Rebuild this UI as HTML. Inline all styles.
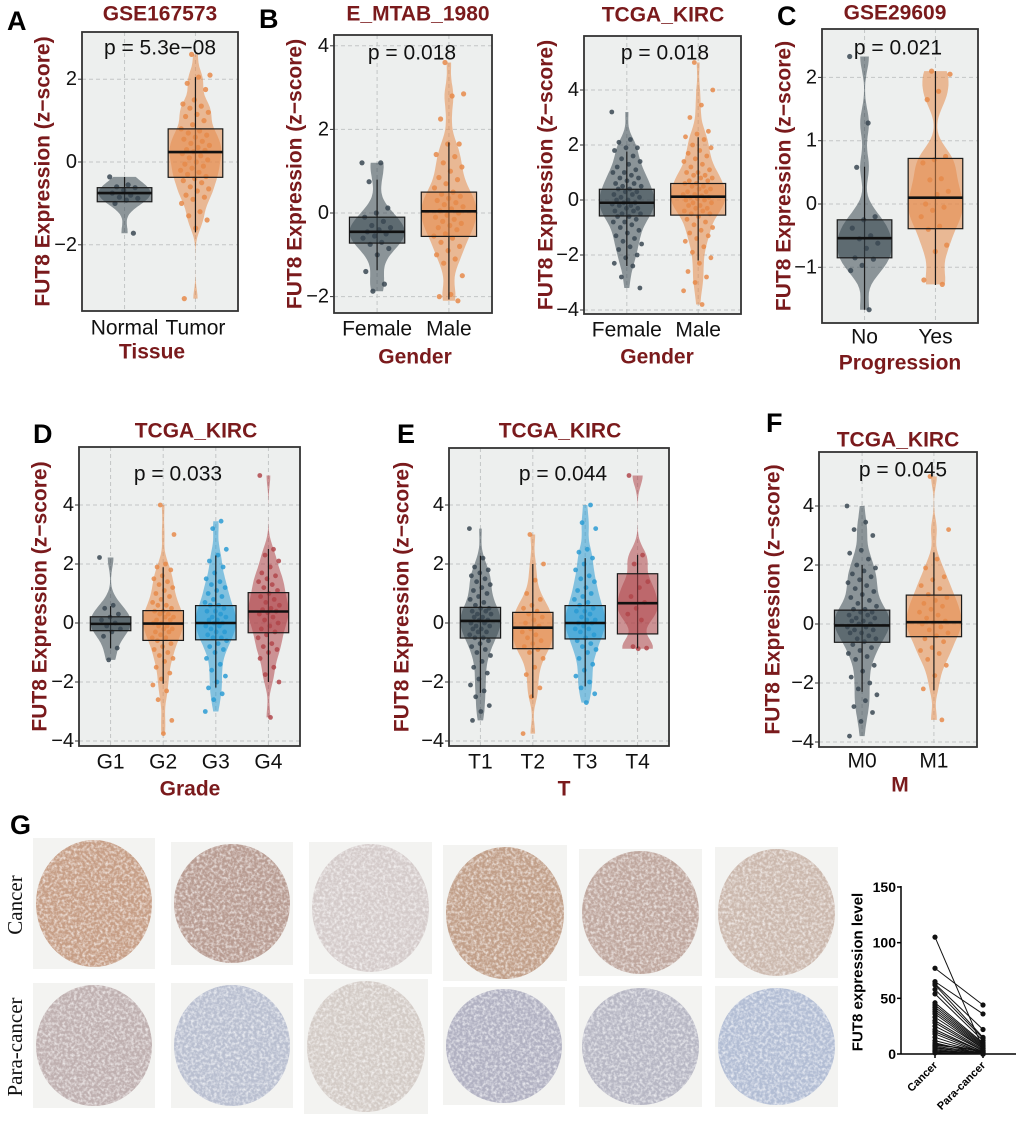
<!DOCTYPE html>
<html><head><meta charset="utf-8">
<style>
html,body{margin:0;padding:0;background:#fff;}
svg{display:block;font-family:"Liberation Sans",Arial,sans-serif;}
</style></head>
<body>
<svg id="fig" width="1020" height="1128" viewBox="0 0 1020 1128" xmlns="http://www.w3.org/2000/svg">
<defs>
<filter id="tex" x="0" y="0" width="100%" height="100%">
<feTurbulence type="fractalNoise" baseFrequency="0.35" numOctaves="2" seed="3" result="n"/>
<feColorMatrix in="n" type="matrix" values="0 0 0 0 1  0 0 0 0 1  0 0 0 0 1  0 0 0 -2.2 1.35" result="w"/>
<feComposite in="w" in2="SourceGraphic" operator="in"/>
</filter>
</defs>
</svg>
<script>
// ---------------- DATA ----------------
const A_categories = ['Normal','Tumor'];
const A_ticks = [-2,0,2];
const A_box_normal = [-0.96,-0.75,-0.62,-0.96,-0.36];
const A_box_tumor = [-0.37,0.24,0.80,-1.70,2.05];
const A_points_normal = [-0.36,-0.55,-0.6,-0.62,-0.68,-0.75,-0.8,-0.85,-0.88,-0.92,-1.0,-1.72];
const A_points_tumor = [2.6,2.1,2.05,1.9,1.75,1.5,1.4,1.35,1.3,1.2,1.15,1.1,1.0,0.9,0.8,0.75,0.7,0.65,0.6,0.55,0.5,0.45,0.4,0.35,0.3,0.28,0.25,0.2,0.15,0.1,0.05,0.0,-0.05,-0.1,-0.15,-0.2,-0.25,-0.3,-0.35,-0.4,-0.45,-0.5,-0.6,-0.65,-0.7,-0.8,-0.85,-0.9,-1.0,-1.2,-1.3,-1.4,-1.6,-3.3];

const B1_categories = ['Female','Male'];
const B1_ticks = [-2,0,2,4];
const B1_box_female = [-0.72,-0.45,-0.10,-1.37,0.80];
const B1_box_male = [-0.56,0.04,0.50,-2.07,1.69];
const B1_points_female = [1.2,1.2,0.75,0.12,0.0,-0.1,-0.2,-0.3,-0.35,-0.4,-0.45,-0.5,-0.55,-0.6,-0.7,-0.75,-0.85,-1.0,-1.4,-1.7,-1.87];
const B1_points_male = [3.6,2.85,2.8,2.25,1.65,1.65,1.4,1.35,1.2,1.1,1.0,0.85,0.8,0.7,0.6,0.5,0.45,0.4,0.35,0.3,0.25,0.2,0.15,0.1,0.05,0.0,-0.05,-0.1,-0.15,-0.2,-0.25,-0.3,-0.35,-0.4,-0.5,-0.55,-0.6,-0.7,-0.8,-0.9,-1.0,-1.1,-1.2,-1.5,-1.95,-2.0,-2.1];

const B2_categories = ['Female','Male'];
const B2_ticks = [-4,-2,0,2,4];
const B2_box_female = [-0.58,-0.10,0.39,-2.40,1.76];
const B2_box_male = [-0.55,0.12,0.60,-2.20,2.28];
const B2_points_female = [3.2,2.2,2.1,1.9,1.9,1.8,1.6,1.5,1.4,1.3,1.2,1.1,1.0,1.0,0.9,0.8,0.8,0.7,0.6,0.6,0.5,0.5,0.4,0.4,0.3,0.3,0.2,0.2,0.1,0.1,0.0,0.0,-0.1,-0.1,-0.15,-0.2,-0.2,-0.3,-0.3,-0.4,-0.4,-0.5,-0.5,-0.6,-0.6,-0.7,-0.8,-0.8,-0.9,-1.0,-1.1,-1.2,-1.3,-1.4,-1.5,-1.6,-1.7,-1.8,-2.0,-2.1,-2.3,-2.4,-2.8,-3.2];
const B2_points_male = [5.0,4.0,3.45,3.0,2.5,2.4,2.3,2.2,2.0,1.9,1.8,1.7,1.6,1.5,1.4,1.3,1.2,1.1,1.0,1.0,0.9,0.9,0.8,0.8,0.7,0.7,0.6,0.6,0.5,0.5,0.4,0.4,0.3,0.3,0.2,0.2,0.15,0.1,0.1,0.05,0.0,0.0,-0.1,-0.1,-0.2,-0.2,-0.3,-0.3,-0.4,-0.4,-0.5,-0.5,-0.6,-0.7,-0.8,-0.9,-1.0,-1.1,-1.2,-1.3,-1.4,-1.5,-1.7,-1.9,-2.1,-2.3,-2.6,-2.8,-3.0,-3.3,-3.8];

const C_categories = ['No','Yes'];
const C_ticks = [-1,0,1,2];
const C_box_no = [-0.85,-0.54,-0.25,-1.67,0.59];
const C_box_yes = [-0.39,0.10,0.72,-1.28,2.10];
const C_points_no = [2.33,1.28,0.58,-0.2,-0.25,-0.38,-0.5,-0.55,-0.62,-0.7,-0.85,-0.87,-0.97,-1.05,-1.67];
const C_points_yes = [2.1,2.05,1.78,1.65,0.75,0.7,0.65,0.4,0.38,0.2,0.15,0.0,-0.05,-0.1,-0.2,-0.35,-0.4,-0.65,-0.75,-1.2,-1.27];

const D_categories = ['G1','G2','G3','G4'];
const D_ticks = [-4,-2,0,2,4];
const D_box_g1 = [-0.26,-0.03,0.21,-0.86,0.57];
const D_box_g2 = [-0.59,-0.02,0.42,-2.06,1.89];
const D_box_g3 = [-0.57,0.00,0.59,-2.19,2.29];
const D_box_g4 = [-0.33,0.39,1.03,-2.00,2.51];
const D_points_g1 = [2.22,0.6,0.5,0.3,0.2,0.1,0.0,-0.1,-0.2,-0.3,-0.45,-0.85,-1.25];
const D_points_g2 = [4.0,3.0,2.0,1.9,1.8,1.6,1.5,1.4,1.3,1.2,1.1,1.0,0.9,0.8,0.7,0.6,0.6,0.5,0.4,0.4,0.3,0.3,0.2,0.2,0.1,0.1,0.0,0.0,-0.1,-0.1,-0.2,-0.2,-0.3,-0.3,-0.4,-0.5,-0.5,-0.6,-0.7,-0.8,-0.9,-1.0,-1.1,-1.2,-1.3,-1.5,-1.7,-1.9,-2.1,-2.3,-2.6,-3.3,-3.75];
const D_points_g3 = [3.45,3.2,2.5,2.3,2.1,1.9,1.7,1.5,1.4,1.3,1.2,1.1,1.0,0.9,0.8,0.7,0.6,0.6,0.5,0.4,0.4,0.3,0.2,0.2,0.1,0.1,0.0,0.0,-0.1,-0.1,-0.2,-0.3,-0.3,-0.4,-0.5,-0.5,-0.6,-0.7,-0.8,-0.9,-1.0,-1.2,-1.4,-1.6,-1.8,-2.0,-2.2,-2.4,-2.6,-3.0];
const D_points_g4 = [5.0,2.5,2.3,2.1,1.9,1.7,1.6,1.5,1.4,1.3,1.2,1.1,1.0,0.9,0.8,0.7,0.6,0.5,0.45,0.4,0.35,0.3,0.2,0.1,0.0,-0.1,-0.2,-0.3,-0.4,-0.5,-0.7,-0.8,-0.9,-1.0,-1.2,-1.5,-1.75,-2.0,-3.2];

const E_categories = ['T1','T2','T3','T4'];
const E_ticks = [-4,-2,0,2,4];
const E_box_t1 = [-0.51,0.07,0.53,-2.37,2.28];
const E_box_t2 = [-0.87,-0.16,0.36,-2.54,2.00];
const E_box_t3 = [-0.54,0.00,0.59,-2.15,2.20];
const E_box_t4 = [-0.37,0.67,1.67,-0.86,2.31];
const E_points_t1 = [3.2,2.2,1.9,1.8,1.7,1.6,1.5,1.4,1.3,1.2,1.1,1.0,0.9,0.8,0.7,0.6,0.5,0.5,0.4,0.4,0.3,0.3,0.2,0.2,0.1,0.1,0.0,0.0,-0.1,-0.1,-0.2,-0.2,-0.3,-0.3,-0.4,-0.5,-0.5,-0.6,-0.7,-0.8,-0.9,-1.0,-1.1,-1.3,-1.5,-1.7,-1.9,-2.1,-2.3,-2.5,-2.8,-3.0,-3.3];
const E_points_t2 = [3.0,2.0,1.45,1.0,0.8,0.6,0.5,0.4,0.3,0.2,0.1,0.0,-0.1,-0.2,-0.3,-0.4,-0.5,-0.6,-0.7,-0.8,-0.9,-1.0,-1.2,-1.5,-1.75,-2.2,-2.5,-3.75];
const E_points_t3 = [4.0,3.4,3.2,2.5,2.4,2.2,2.0,1.8,1.6,1.5,1.4,1.2,1.1,1.0,0.9,0.8,0.7,0.6,0.5,0.4,0.4,0.3,0.2,0.1,0.1,0.0,0.0,-0.1,-0.2,-0.2,-0.3,-0.4,-0.5,-0.6,-0.7,-0.8,-0.9,-1.0,-1.2,-1.4,-1.6,-1.8,-2.0,-2.2,-2.4,-2.7];
const E_points_t4 = [5.0,2.3,2.0,1.4,1.2,0.9,0.7,0.5,0.3,0.1,-0.8,-0.85,-0.87];

const F_categories = ['M0','M1'];
const F_ticks = [-4,-2,0,2,4];
const F_box_m0 = [-0.62,-0.05,0.47,-2.30,2.00];
const F_box_m1 = [-0.43,0.06,0.98,-2.25,2.43];
const F_points_m0 = [4.0,3.45,3.2,3.0,2.5,2.4,2.2,2.0,1.9,1.8,1.7,1.6,1.5,1.4,1.3,1.2,1.1,1.0,0.9,0.8,0.7,0.6,0.5,0.5,0.4,0.4,0.3,0.3,0.2,0.2,0.1,0.1,0.0,0.0,-0.1,-0.1,-0.2,-0.2,-0.3,-0.3,-0.4,-0.5,-0.5,-0.6,-0.7,-0.8,-0.9,-1.0,-1.1,-1.2,-1.4,-1.6,-1.8,-2.0,-2.2,-2.4,-2.6,-2.8,-3.0,-3.3,-3.8];
const F_points_m1 = [5.0,3.2,2.2,1.9,1.6,1.5,1.3,1.2,1.0,0.9,0.8,0.7,0.6,0.5,0.4,0.3,0.2,0.1,0.05,0.0,-0.1,-0.2,-0.3,-0.4,-0.5,-0.6,-0.8,-0.9,-1.0,-1.2,-1.4,-1.75,-2.2,-3.25];

const G_categories = ['Cancer','Para-cancer'];
const G_ticks = [0,50,100,150];
const G_cancer = [105,77,65,63,62,58,54,46,44,42,40,38,36,33,30,28,25,22,20,18,15,12,10,9,8,7,6,5,4,3,2,2,1];
const G_para = [5,44,36,22,15,14,12,10,9,8,7,6,5,5,4,3,3,2,2,1,1,1,0,2,3,1,0,1,0,0,1,0,0];

// ---------------- DRAW ----------------
const NS='http://www.w3.org/2000/svg';
const svg=document.getElementById('fig');
function mk(tag,attrs,parent){const e=document.createElementNS(NS,tag);for(const k in attrs)e.setAttribute(k,attrs[k]);(parent||svg).appendChild(e);return e;}
function txt(s,attrs,parent){const e=mk('text',attrs,parent);e.textContent=s;return e;}
const GREY='#3a4852',ORANGE='#e68a4a',BLUE='#2a9bd3',RED='#b0464b',DRED='#7a1a1c';

function kde(pts,v,bw){let s=0;for(const p of pts){const z=(v-p)/bw;s+=Math.exp(-0.5*z*z);}return s;}

function panel(cfg){
  const g=mk('g',{});
  
  
  const [x1,y1,x2,y2]=cfg.box;
  const n=cfg.cats.length;
  const unit=(x2-x1)/(n+0.2);
  const xs=i=>x1+(i+0.6)*unit;
  const ys=v=>cfg.y0-v*cfg.ppu;
  const bg=mk('rect',{x:x1,y:y1,width:x2-x1,height:y2-y1,fill:'#edefee'},g);
  
  
  cfg.ticks.forEach(t=>{
    const l=mk('line',{x1:x1,x2:x2,y1:ys(t),y2:ys(t),stroke:'#c3c6c6','stroke-dasharray':'4,3','stroke-width':1},g);
    
    
    const tk=mk('line',{x1:x1-4,x2:x1,y1:ys(t),y2:ys(t),stroke:'#333','stroke-width':1},g);
    
    
    const lb=txt(t<0?'\u2212'+Math.abs(t):String(t),{x:x1-5,y:ys(t),'text-anchor':'end','dominant-baseline':'central','font-size':20,fill:'#111'},g);
    
    
  });
  cfg.cats.forEach((c,i)=>{
    const l=mk('line',{x1:xs(i),x2:xs(i),y1:y1,y2:y2,stroke:'#c3c6c6','stroke-dasharray':'4,3','stroke-width':1},g);
    
    
  });
  const bhw=unit*0.385;
  cfg.cats.forEach((c,i)=>{
    const pts=cfg.points[i], st=cfg.stats[i], col=cfg.colors[i], cx=xs(i);
    const mn=Math.min(...pts), mx=Math.max(...pts);
    const bw=cfg.bw||0.3;
    const steps=60;let mxd=0;const dens=[];
    for(let k=0;k<=steps;k++){const v=mn+(mx-mn)*k/steps;const d=kde(pts,v,bw);dens.push([v,d]);if(d>mxd)mxd=d;}
    const vw=bhw*(cfg.vf||1.0);
    let dp='';
    dens.forEach(([v,d],k)=>{dp+=(k?'L':'M')+(cx+d/mxd*vw).toFixed(1)+','+ys(v).toFixed(1);});
    for(let k=dens.length-1;k>=0;k--){const [v,d]=dens[k];dp+='L'+(cx-d/mxd*vw).toFixed(1)+','+ys(v).toFixed(1);}
    const vio=mk('path',{d:dp+'Z',fill:col,'fill-opacity':0.55,stroke:'none'},g);
    
    
    pts.forEach((p,j)=>{
      const jit=(((j*0.6180339+i*0.37)%1)-0.5)*unit*0.42;
      const dot=mk('circle',{cx:(cx+jit).toFixed(1),cy:ys(p).toFixed(1),r:cfg.r||2.6,fill:col,'fill-opacity':0.85},g);
      
      
    });
    const wh=mk('line',{x1:cx,x2:cx,y1:ys(st[3]),y2:ys(st[4]),stroke:'#1a1a1a','stroke-width':1.2},g);
    
    
    const bx=mk('rect',{x:cx-bhw,y:ys(st[2]),width:2*bhw,height:ys(st[0])-ys(st[2]),fill:col,'fill-opacity':0.55,stroke:'#1a1a1a','stroke-width':1.2},g);
    
    
    const md=mk('line',{x1:cx-bhw,x2:cx+bhw,y1:ys(st[1]),y2:ys(st[1]),stroke:'#111','stroke-width':2.6},g);
    
    
    const xl=txt(c,{x:cx,y:cfg.xlabY,'text-anchor':'middle','dominant-baseline':'central','font-size':21,fill:'#111'},g);
    
    
  });
  const fr=mk('rect',{x:x1,y:y1,width:x2-x1,height:y2-y1,fill:'none',stroke:'#333','stroke-width':1.8},g);
  
  
  const ti=txt(cfg.title,{x:cfg.titleX,y:cfg.titleY,'text-anchor':'middle','dominant-baseline':'central','font-size':21,'font-weight':'bold',fill:DRED},g);
  
  
  const pv=txt(cfg.p,{x:cfg.pX,y:cfg.pY,'text-anchor':'middle','dominant-baseline':'central','font-size':21,fill:'#111'},g);
  
  
  const yt=txt('FUT8 Expression (z\u2212score)',{x:0,y:0,'text-anchor':'middle','dominant-baseline':'central','font-size':21,'font-weight':'bold',fill:DRED,transform:`translate(${cfg.ylabX},${(y1+y2)/2}) rotate(-90)`},g);
  
  
  const xt=txt(cfg.xtitle,{x:cfg.xtX,y:cfg.xtY,'text-anchor':'middle','dominant-baseline':'central','font-size':21,'font-weight':'bold',fill:DRED},g);
  
  
  if(cfg.letter){
    const lt=txt(cfg.letter,{x:cfg.letterX,y:cfg.letterY,'font-size':27,'font-weight':'bold',fill:'#000'},g);
    
    
  }
}

panel({id:'a',box:[82,32,238,311],y0:162,ppu:41.4,ticks:A_ticks,cats:A_categories,colors:[GREY,ORANGE],
  stats:[A_box_normal,A_box_tumor],points:[A_points_normal,A_points_tumor],bw:0.22,vf:0.95,
  title:'GSE167573',titleX:160,titleY:14,p:'p = 5.3e\u221208',pX:160,pY:48,ylabX:43,xlabY:328,xtitle:'Tissue',xtX:152,xtY:352,letter:'A',letterX:7,letterY:30});
panel({id:'b1',box:[334,35,492,313],y0:213,ppu:41.8,ticks:B1_ticks,cats:B1_categories,colors:[GREY,ORANGE],
  stats:[B1_box_female,B1_box_male],points:[B1_points_female,B1_points_male],bw:0.28,
  title:'E_MTAB_1980',titleX:418,titleY:14,p:'p = 0.018',pX:412,pY:53,ylabX:295,xlabY:329,xtitle:'Gender',xtX:415,xtY:357,letter:'B',letterX:259,letterY:28});
panel({id:'b2',box:[584,36,741,314],y0:200,ppu:27.5,ticks:B2_ticks,cats:B2_categories,colors:[GREY,ORANGE],
  stats:[B2_box_female,B2_box_male],points:[B2_points_female,B2_points_male],bw:0.35,r:2.4,
  title:'TCGA_KIRC',titleX:663,titleY:15,p:'p = 0.018',pX:665,pY:53,ylabX:546,xlabY:330,xtitle:'Gender',xtX:657,xtY:357});
panel({id:'c',box:[822,29,978,323],y0:204,ppu:63.3,ticks:C_ticks,cats:C_categories,colors:[GREY,ORANGE],
  stats:[C_box_no,C_box_yes],points:[C_points_no,C_points_yes],bw:0.22,
  title:'GSE29609',titleX:895,titleY:13,p:'p = 0.021',pX:898,pY:48,ylabX:784,xlabY:337,xtitle:'Progression',xtX:900,xtY:363,letter:'C',letterX:777,letterY:25});
panel({id:'d',box:[79,447,300,746],y0:623,ppu:29.5,ticks:D_ticks,cats:D_categories,colors:[GREY,ORANGE,BLUE,RED],
  stats:[D_box_g1,D_box_g2,D_box_g3,D_box_g4],points:[D_points_g1,D_points_g2,D_points_g3,D_points_g4],bw:0.35,r:2.4,
  title:'TCGA_KIRC',titleX:196,titleY:431,p:'p = 0.033',pX:178,pY:474,ylabX:40,xlabY:762,xtitle:'Grade',xtX:190,xtY:789,letter:'D',letterX:33,letterY:443});
panel({id:'e',box:[449,448,669,746],y0:623,ppu:29.5,ticks:E_ticks,cats:E_categories,colors:[GREY,ORANGE,BLUE,RED],
  stats:[E_box_t1,E_box_t2,E_box_t3,E_box_t4],points:[E_points_t1,E_points_t2,E_points_t3,E_points_t4],bw:0.35,r:2.4,
  title:'TCGA_KIRC',titleX:560,titleY:431,p:'p = 0.044',pX:563,pY:474,ylabX:402,xlabY:762,xtitle:'T',xtX:564,xtY:789,letter:'E',letterX:397,letterY:443});
panel({id:'f',box:[819,452,977,747],y0:624,ppu:29.5,ticks:F_ticks,cats:F_categories,colors:[GREY,ORANGE],
  stats:[F_box_m0,F_box_m1],points:[F_points_m0,F_points_m1],bw:0.35,r:2.4,
  title:'TCGA_KIRC',titleX:898,titleY:440,p:'p = 0.045',pX:903,pY:470,ylabX:773,xlabY:761,xtitle:'M',xtX:900,xtY:785,letter:'F',letterX:766,letterY:432});

// ---------------- PANEL G: tissue cores ----------------
const gl=txt('G',{x:10,y:834,'font-size':27,'font-weight':'bold',fill:'#000'});


const cores=[
 [33,838,122,131,'#c69e86'],[171,842,122,123,'#b89c92'],[309,842,123,132,'#d4cbca'],[443,845,124,136,'#c19f89'],[579,849,123,127,'#bfa79e'],[715,847,123,131,'#cbb8ad'],
 [33,983,122,125,'#bfb0b0'],[171,983,122,125,'#b9bfd0'],[304,979,124,135,'#d3cbc6'],[443,987,122,118,'#b1b1c2'],[579,986,123,121,'#b7b7c4'],[715,986,123,121,'#b2bdd4']];
cores.forEach((c,i)=>{
  const [x,y,w,h,col]=c;
  const t=mk('rect',{x:x,y:y,width:w,height:h,fill:'#f3f3f1'});
  
  
  const e=mk('ellipse',{cx:x+w/2,cy:y+h/2,rx:w/2-3,ry:h/2-2,fill:col});
  
  
  const e2=mk('ellipse',{cx:x+w/2,cy:y+h/2,rx:w/2-3,ry:h/2-2,fill:'#fff',filter:'url(#tex)',opacity:0.7});
  
  
});
const rc=txt('Cancer',{x:0,y:0,'text-anchor':'middle','dominant-baseline':'central','font-size':21,fill:'#111','font-family':'"Liberation Serif",serif',transform:'translate(15,905) rotate(-90)'});


const rp=txt('Para-cancer',{x:0,y:0,'text-anchor':'middle','dominant-baseline':'central','font-size':21,fill:'#111','font-family':'"Liberation Serif",serif',transform:'translate(15,1047) rotate(-90)'});



// ---------------- PANEL G: paired chart ----------------
(function(){
  const gy=v=>1054-v*(1054-887)/150;
  const gx=i=>[935,983][i];
  const ax=mk('line',{x1:901,x2:901,y1:886,y2:1054,stroke:'#000','stroke-width':1.5});
  
  
  const xa=mk('line',{x1:901,x2:1016,y1:1054,y2:1054,stroke:'#000','stroke-width':1.5});
  
  
  G_ticks.forEach(t=>{
    const tk=mk('line',{x1:897,x2:901,y1:gy(t),y2:gy(t),stroke:'#000','stroke-width':1.5});
    
    
    const lb=txt(String(t),{x:896,y:gy(t),'text-anchor':'end','dominant-baseline':'central','font-size':14,'font-weight':'bold',fill:'#000'});
    
    
  });
  G_categories.forEach((c,i)=>{
    const tk=mk('line',{x1:gx(i),x2:gx(i),y1:1054,y2:1058,stroke:'#000','stroke-width':1.5});
    
    
    const lb=txt(c,{x:0,y:0,'text-anchor':'end','font-size':11,'font-weight':'bold',fill:'#000',transform:`translate(${gx(i)+3},${1066}) rotate(-45)`});
    
    
  });
  G_cancer.forEach((v,i)=>{
    const p=G_para[i];
    const l=mk('line',{x1:gx(0),y1:gy(v),x2:gx(1),y2:gy(p),stroke:'#111','stroke-width':1});
    
    
    const a=mk('circle',{cx:gx(0),cy:gy(v),r:2.6,fill:'#111'});
    
    
    const b=mk('circle',{cx:gx(1),cy:gy(p),r:2.6,fill:'#111'});
    
    
  });
  const yt=txt('FUT8 expression level',{x:0,y:0,'text-anchor':'middle','dominant-baseline':'central','font-size':15,'font-weight':'bold',fill:'#000',transform:'translate(858,972) rotate(-90)'});
  
  
})();
</script>
</body></html>
